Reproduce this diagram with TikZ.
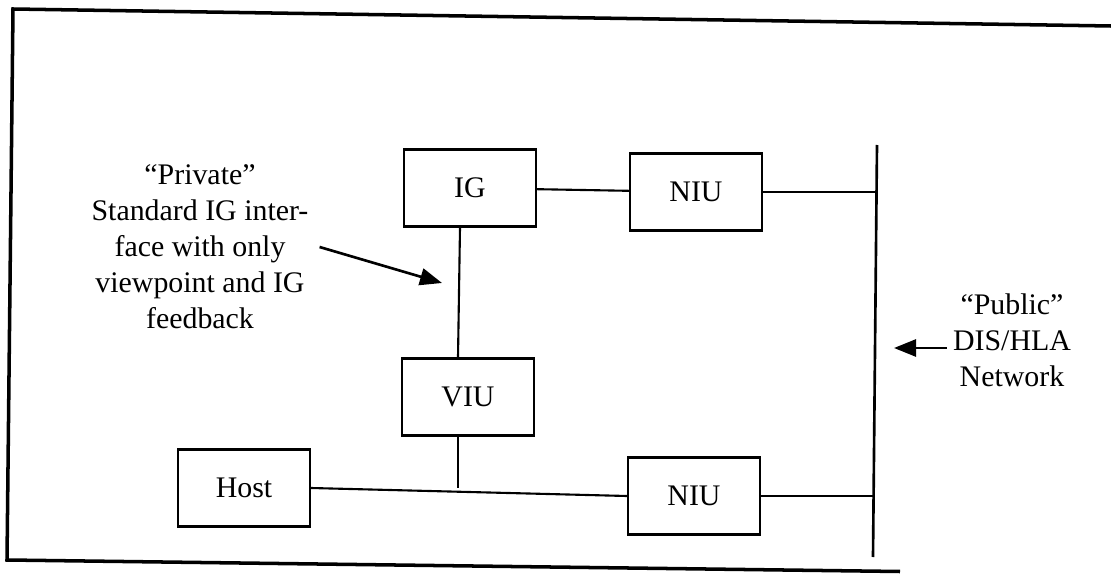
\documentclass[tikz,border=0pt]{standalone}
\usepackage{fontspec}
\setmainfont{Liberation Serif}
\usepackage{tikz}
\usetikzlibrary{arrows.meta,positioning}
\tikzset{
  unit/.style  = {draw=black, line width=1.3pt, minimum width=2.64cm,
                  minimum height=1.54cm, inner sep=0pt,
                  font=\fontsize{17}{20.5}\selectfont},
  note/.style  = {align=center, font=\fontsize{17}{20.5}\selectfont},
  wire/.style  = {draw=black, line width=1.2pt},
  bus/.style   = {draw=black, line width=1.5pt},
  frm/.style   = {draw=black, line width=2pt},
  ptr/.style   = {-{Triangle[length=4.4mm,width=3.4mm]}, draw=black, line width=1.5pt},
}
\begin{document}
\begin{tikzpicture}
  \useasboundingbox (0,0) rectangle (22.22,11.48);
  % open frame
  \draw[frm] (22.22,10.96) -- (0.26,11.30) -- (0.14,0.28) -- (18.0,0.05);

  % units
  \node[unit] (ig)   at (9.40,7.72) {IG};
  \node[unit] (niua) at (13.92,7.64) {NIU};
  \node[unit] (viu)  at (9.36,3.54) {VIU};
  \node[unit] (host) at (4.88,1.72) {Host};
  \node[unit] (niub) at (13.88,1.56) {NIU};

  % public network
  \coordinate (nettop) at (17.54,8.58);
  \coordinate (netbot) at (17.46,0.34);
  \draw[bus] (nettop) -- (netbot);

  % links
  \draw[wire] (ig) -- (niua);
  \draw[wire] (niua.east) -- (niua.east -| nettop);
  \draw[wire] ([xshift=-2mm]ig.south) -- ([xshift=-2mm]viu.north);
  \draw[wire] (host.east) -- (niub.west);
  \coordinate (jn) at ([xshift=-2mm]viu.south);
  \draw[wire] (jn) -- (jn |- host.east);
  \draw[wire] (niub.east) -- (niub.east -| netbot);

  % notes
  \node[note] (priv) at (4.00,6.54)
    {“Private”\\Standard IG inter-\\face with only\\viewpoint and IG\\feedback};
  \coordinate (privtip) at (8.84,5.82);
  \draw[ptr] ([xshift=1mm]priv.east) -- (privtip);

  \node[note] (pub) at (20.24,4.68) {“Public”\\DIS/HLA\\Network};
  \coordinate (pubtip) at (17.88,4.52);
  \draw[ptr] (pub.west |- pubtip) -- (pubtip);
\end{tikzpicture}
\end{document}
